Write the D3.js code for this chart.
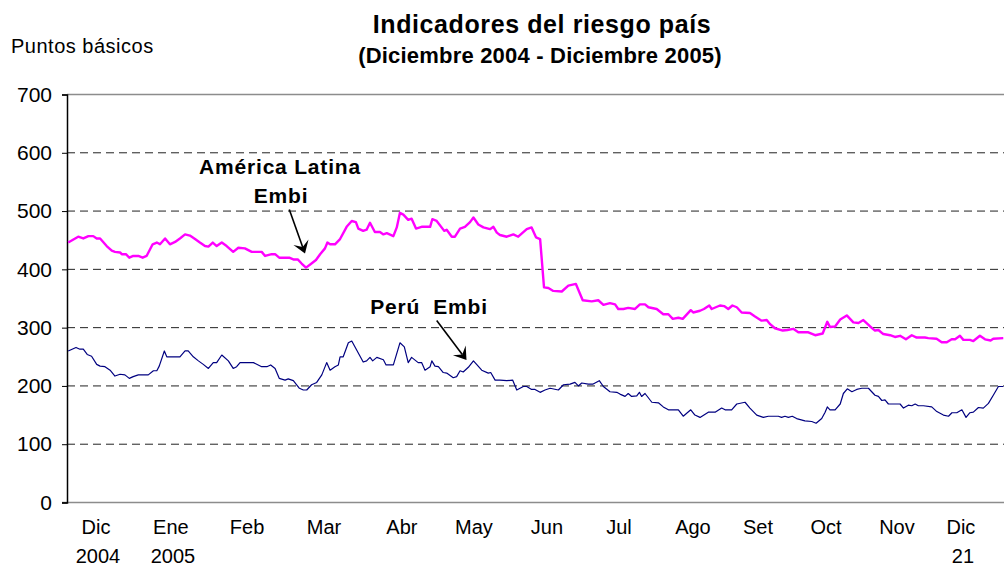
<!DOCTYPE html>
<html>
<head>
<meta charset="utf-8">
<script src="https://cdn.jsdelivr.net/npm/d3@7"></script>
<style>
  body { margin: 0; background: #fff; }
  text { font-family: "Liberation Sans", Arial, sans-serif; fill: #000; }
</style>
</head>
<body>
<svg id="chart" width="1004" height="566"></svg>
<script>
// días desde el 1 de diciembre de 2004, puntos básicos
const latamEmbi = [
  [0.5, 446], [4.6, 456], [6.7, 453], [8.8, 457], [10.8, 457], [12.2, 453], [13.6, 453],
  [16.3, 440], [18.4, 432], [19.7, 430], [21.8, 429], [22.5, 426], [24.2, 426], [25.6, 420],
  [27.2, 423], [29.3, 423], [31.1, 420], [32.7, 423], [35.2, 443], [36.9, 446], [38.2, 443],
  [40.3, 453], [42.3, 443], [44.4, 447], [46.4, 453], [48.5, 460], [50.5, 458], [52.6, 452],
  [54.6, 446], [56.7, 440], [58.1, 439], [59.9, 446], [61.5, 440], [63.6, 446], [65.6, 440],
  [68.3, 430], [70.4, 437], [73.1, 436], [75.9, 430], [80.0, 430], [81.4, 423], [84.1, 426],
  [85.5, 426], [87.2, 420], [91.3, 420], [93.0, 417], [94.8, 417], [96.4, 410], [98.2, 403],
  [99.8, 408], [102.3, 416], [104.0, 426], [106.0, 436], [107.0, 446], [108.1, 443], [110.1, 443],
  [112.2, 452], [114.9, 473], [117.0, 483], [118.7, 481], [119.7, 470], [121.7, 466], [123.1, 468],
  [124.5, 480], [126.5, 464], [128.6, 464], [130.0, 460], [131.4, 462], [134.1, 457], [135.5, 472],
  [136.8, 497], [138.2, 494], [140.2, 485], [141.6, 487], [143.4, 470], [145.7, 473], [149.2, 473],
  [150.1, 486], [151.9, 483], [155.0, 466], [156.0, 468], [158.1, 456], [159.4, 456], [161.5, 470],
  [163.5, 473], [165.6, 481], [167.0, 489], [169.0, 477], [171.1, 472], [173.8, 469], [175.2, 473],
  [176.6, 463], [177.9, 459], [180.7, 456], [183.4, 460], [185.4, 456], [188.9, 469], [190.9, 472],
  [192.7, 455], [194.4, 452], [196.0, 369], [197.8, 368], [199.8, 363], [203.3, 362], [206.0, 372],
  [209.1, 375], [211.9, 347], [215.6, 345], [218.3, 347], [220.4, 339], [223.1, 342], [225.2, 340],
  [226.5, 332], [228.6, 332], [230.6, 334], [233.4, 332], [235.4, 340], [237.5, 340], [238.9, 335],
  [242.3, 332], [245.0, 323], [247.1, 323], [248.9, 315], [251.2, 317], [253.0, 315], [256.3, 330],
  [257.3, 326], [260.1, 329], [261.7, 332], [263.9, 338], [264.9, 332], [268.3, 338], [270.0, 337],
  [271.7, 332], [273.4, 338], [275.2, 335], [277.2, 326], [280.6, 325], [282.7, 319], [285.4, 312],
  [287.5, 313], [288.9, 306], [290.9, 299], [294.1, 295], [296.0, 296], [298.4, 298], [300.5, 292],
  [304.6, 292], [307.4, 287], [310.5, 290], [312.4, 310], [313.5, 301], [315.6, 302], [317.7, 314],
  [320.4, 321], [323.1, 309], [325.2, 308], [327.2, 313], [330.0, 302], [332.0, 295], [333.4, 296],
  [335.4, 289], [338.2, 287], [340.2, 284], [342.3, 286], [344.7, 280], [347.1, 287], [349.1, 283],
  [352.5, 283], [353.9, 282], [357.3, 281], [359.4, 275], [361.5, 275], [363.5, 280], [364.9, 280],
  [366.9, 286], [368.3, 279], [371.0, 279], [372.4, 277], [375.1, 286], [377.2, 280], [379.5, 278],
  [380.6, 281], [384.7, 282]
];

const peruEmbi = [
  [0.5, 260], [3.7, 266], [5.3, 263], [6.7, 263], [8.3, 254], [10.1, 251], [12.2, 237], [13.6, 234],
  [15.6, 233], [17.7, 227], [19.7, 217], [21.8, 220], [23.8, 219], [25.6, 213], [27.2, 216],
  [29.3, 219], [33.4, 219], [35.5, 226], [36.9, 226], [37.9, 234], [40.0, 260], [41.0, 250],
  [46.4, 250], [48.5, 260], [49.8, 260], [51.9, 250], [54.0, 243], [56.0, 237], [58.1, 230],
  [60.1, 240], [61.5, 240], [63.6, 253], [66.3, 243], [68.3, 230], [69.7, 233], [71.1, 240],
  [76.6, 240], [80.0, 233], [82.1, 233], [83.7, 236], [85.5, 230], [87.2, 213], [89.6, 210],
  [90.9, 212], [93.0, 209], [95.5, 196], [97.1, 193], [98.5, 193], [100.5, 202], [102.6, 206],
  [104.7, 219], [106.7, 240], [108.1, 227], [110.1, 233], [111.5, 236], [112.2, 250], [113.5, 250],
  [115.6, 274], [117.0, 277], [121.7, 241], [123.1, 243], [124.5, 249], [125.6, 243], [127.3, 249],
  [130.0, 245], [131.1, 236], [134.1, 236], [136.8, 274], [138.6, 267], [140.2, 240], [141.6, 249],
  [144.3, 240], [145.7, 240], [147.1, 227], [149.2, 233], [149.9, 243], [151.2, 234], [152.6, 233],
  [154.6, 223], [156.0, 222], [158.7, 214], [160.1, 216], [161.5, 226], [162.8, 224], [164.9, 232],
  [167.0, 243], [168.3, 237], [170.4, 227], [173.1, 222], [174.1, 223], [175.9, 210], [177.9, 210],
  [180.7, 209], [183.1, 210], [184.8, 193], [187.5, 199], [188.9, 199], [190.9, 194], [192.3, 194],
  [194.4, 189], [196.4, 193], [198.5, 196], [201.9, 193], [204.0, 202], [206.7, 203], [208.7, 206],
  [210.1, 200], [211.5, 205], [214.2, 203], [216.0, 203], [218.7, 209], [220.4, 199], [223.1, 190],
  [225.9, 189], [227.2, 186], [229.3, 182], [230.6, 187], [232.0, 182], [234.1, 183], [235.2, 189],
  [236.1, 182], [237.5, 187], [240.3, 172], [243.0, 171], [245.0, 164], [247.1, 159], [251.2, 159],
  [253.2, 148], [256.3, 159], [258.0, 150], [260.1, 146], [263.5, 155], [266.3, 155], [269.0, 162],
  [270.4, 159], [273.1, 159], [275.2, 169], [278.6, 172], [280.6, 162], [283.4, 150], [286.1, 146],
  [288.2, 148], [292.3, 148], [293.6, 146], [295.0, 148], [296.4, 146], [298.0, 148], [299.8, 144],
  [303.2, 140], [306.0, 139], [307.8, 136], [310.1, 144], [311.5, 155], [312.4, 164], [313.5, 159],
  [315.6, 159], [317.7, 169], [319.0, 187], [320.6, 195], [322.5, 190], [324.5, 194], [326.6, 196],
  [329.3, 196], [332.0, 184], [333.4, 182], [334.8, 175], [336.1, 176], [337.5, 169], [342.3, 169],
  [343.7, 162], [345.7, 167], [347.1, 166], [348.5, 169], [349.8, 166], [351.9, 166], [355.3, 164],
  [357.4, 156], [360.1, 150], [362.2, 148], [363.6, 154], [365.6, 154], [367.7, 159], [369.4, 146],
  [371.0, 154], [372.4, 155], [374.5, 163], [376.5, 162], [378.6, 170], [380.6, 184], [382.7, 199],
  [384.7, 199]
];

const meses = ["Dic", "Ene", "Feb", "Mar", "Abr", "May", "Jun", "Jul", "Ago", "Set", "Oct", "Nov", "Dic"];
const mesDias = [11.9, 42.7, 74, 105.6, 137.6, 167.2, 197.2, 226.8, 257.2, 283.9, 311.9, 341, 367.3];
const segundaLinea = ["2004", "2005", "", "", "", "", "", "", "", "", "", "", "21"];
const yTicks = [0, 100, 200, 300, 400, 500, 600, 700];

const svg = d3.select("#chart");
const margin = { top: 94.5, right: 0, bottom: 63.5, left: 67 };
const width = 1004 - margin.left - margin.right;
const height = 566 - margin.top - margin.bottom;

const x = d3.scaleLinear().domain([0, 385]).range([0, width]);
const y = d3.scaleLinear().domain([0, 700]).range([height, 0]);

svg.append("rect").attr("width", 1004).attr("height", 566).attr("fill", "#fff");

// titulos
svg.append("text")
  .attr("x", 542).attr("y", 33)
  .attr("text-anchor", "middle")
  .style("font-size", "25px").style("font-weight", "bold")
  .style("letter-spacing", "0.6px")
  .text("Indicadores del riesgo país");

svg.append("text")
  .attr("x", 540).attr("y", 63)
  .attr("text-anchor", "middle")
  .style("font-size", "22px").style("font-weight", "bold")
  .style("letter-spacing", "0.2px")
  .text("(Diciembre 2004 - Diciembre 2005)");

svg.append("text")
  .attr("x", 11).attr("y", 53)
  .style("font-size", "20px")
  .style("letter-spacing", "0.5px")
  .text("Puntos básicos");

const g = svg.append("g").attr("transform", `translate(${margin.left},${margin.top})`);

// rejilla
g.append("g")
  .selectAll("line")
  .data(yTicks.filter((d) => d > 0 && d < 700))
  .join("line")
  .attr("x1", 0).attr("x2", width)
  .attr("y1", (d) => y(d)).attr("y2", (d) => y(d))
  .attr("stroke", "#222")
  .attr("stroke-width", 1)
  .attr("stroke-dasharray", "8,5");

// borde superior y eje x
g.append("line")
  .attr("x1", 0).attr("x2", width)
  .attr("y1", y(700)).attr("y2", y(700))
  .attr("stroke", "#8c8c8c").attr("stroke-width", 1.5);

g.append("line")
  .attr("x1", -5).attr("x2", width)
  .attr("y1", y(0)).attr("y2", y(0))
  .attr("stroke", "#8c8c8c").attr("stroke-width", 1.5);

// eje y
const yAxis = g.append("g")
  .call(d3.axisLeft(y).tickValues(yTicks).tickSize(5).tickPadding(10));
yAxis.select(".domain").attr("stroke", "#000").attr("stroke-width", 1.5);
yAxis.selectAll(".tick line").attr("stroke", "#000");
yAxis.selectAll(".tick text")
  .style("font-size", "21px")
  .style("font-family", '"Liberation Sans", Arial, sans-serif')
  .attr("fill", "#000");

// eje x: etiquetas de meses
const xLabels = g.append("g").attr("transform", `translate(0,${height})`);
xLabels.selectAll(".mes")
  .data(meses)
  .join("text")
  .attr("class", "mes")
  .attr("x", (d, i) => x(mesDias[i]))
  .attr("y", 31.5)
  .attr("text-anchor", "middle")
  .style("font-size", "20px")
  .text((d) => d);

xLabels.selectAll(".anio")
  .data(segundaLinea)
  .join("text")
  .attr("class", "anio")
  .attr("x", (d, i) => x(mesDias[i]) + 2)
  .attr("y", 60.5)
  .attr("text-anchor", "middle")
  .style("font-size", "20px")
  .text((d) => d);

// series
const line = d3.line()
  .x((d) => x(d[0]))
  .y((d) => y(d[1]));

g.append("path")
  .datum(latamEmbi)
  .attr("fill", "none")
  .attr("stroke", "#ff00ff")
  .attr("stroke-width", 2.4)
  .attr("stroke-linejoin", "round")
  .attr("d", line);

g.append("path")
  .datum(peruEmbi)
  .attr("fill", "none")
  .attr("stroke", "#000080")
  .attr("stroke-width", 1.2)
  .attr("stroke-linejoin", "round")
  .attr("d", line);

// anotaciones con flecha
const arrow = (x1, y1, x2, y2) => {
  const dx = x2 - x1;
  const dy = y2 - y1;
  const len = Math.hypot(dx, dy);
  const ux = dx / len;
  const uy = dy / len;
  const nx = -uy;
  const ny = ux;
  const back = 12;
  const half = 8;
  const notch = 7;
  svg.append("line")
    .attr("x1", x1).attr("y1", y1)
    .attr("x2", x2 - ux * notch).attr("y2", y2 - uy * notch)
    .attr("stroke", "#000").attr("stroke-width", 1.6);
  const pts = [
    [x2, y2],
    [x2 - ux * back + nx * half, y2 - uy * back + ny * half],
    [x2 - ux * notch, y2 - uy * notch],
    [x2 - ux * back - nx * half, y2 - uy * back - ny * half],
  ];
  svg.append("path")
    .attr("d", "M" + pts.map((p) => p.join(",")).join("L") + "Z")
    .attr("fill", "#000");
};

svg.append("text")
  .attr("x", 280).attr("y", 174)
  .attr("text-anchor", "middle")
  .style("font-size", "21px").style("font-weight", "bold")
  .style("letter-spacing", "0.8px")
  .text("América Latina");
svg.append("text")
  .attr("x", 281).attr("y", 203)
  .attr("text-anchor", "middle")
  .style("font-size", "21px").style("font-weight", "bold")
  .style("letter-spacing", "0.8px")
  .text("Embi");
arrow(289.3, 209.5, 305, 253.5);

svg.append("text")
  .attr("x", 429).attr("y", 314)
  .attr("text-anchor", "middle")
  .style("font-size", "21px").style("font-weight", "bold")
  .style("letter-spacing", "0.8px")
  .style("white-space", "pre")
  .text("Perú  Embi");
arrow(436.7, 320.5, 466.5, 360);
</script>
</body>
</html>
